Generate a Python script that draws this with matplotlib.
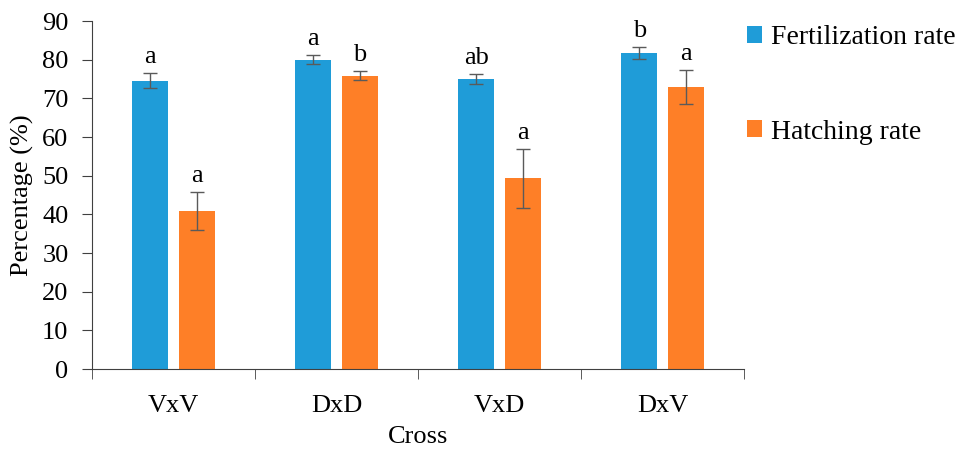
import numpy as np
import matplotlib.pyplot as plt

crosses = ["VxV", "DxD", "VxD", "DxV"]
fert = [74.6, 80.0, 75.0, 81.7]
fert_err = [1.95, 1.2, 1.3, 1.5]
hatch = [41.0, 75.9, 49.3, 72.9]
hatch_err = [4.9, 1.1, 7.7, 4.4]
fert_letters = ["a", "a", "ab", "b"]
hatch_letters = ["a", "b", "a", "a"]

plt.rcParams['font.family'] = ['Liberation Serif', 'DejaVu Serif']

blue = "#1F9CD8"
orange = "#FE7F27"
errc = "#5A5A5A"

fig = plt.figure(figsize=(9.7, 4.49), dpi=100)
ax = fig.add_axes([0.095, 0.178, 0.672, 0.775])

x = np.arange(len(crosses))
w = 0.22
off = 0.143
ekw = dict(ecolor=errc, elinewidth=1, capsize=5, capthick=1)
ax.bar(x - off, fert, w, color=blue, yerr=fert_err, error_kw=ekw, label="Fertilization rate")
ax.bar(x + off, hatch, w, color=orange, yerr=hatch_err, error_kw=ekw, label="Hatching rate")

for i in range(len(crosses)):
    ax.text(x[i] - off, fert[i] + fert_err[i] + 2.6, fert_letters[i], fontsize=19,
            ha="center", va="baseline")
    ax.text(x[i] + off, hatch[i] + hatch_err[i] + 2.6, hatch_letters[i], fontsize=19,
            ha="center", va="baseline")

ax.set_xlim(-0.5, 3.5)
ax.set_ylim(0, 90)
ax.set_yticks(range(0, 91, 10))
ax.set_xticks(x)
ax.set_xticklabels(crosses)
ax.set_xticks(np.arange(-0.5, 3.6, 1), minor=True)
ax.tick_params(axis="x", which="major", length=0, labelsize=19, pad=19)
ax.tick_params(axis="x", which="minor", length=7, direction="out", color="#404040")
ax.tick_params(axis="y", length=7, direction="out", labelsize=19, color="#404040", pad=10)

for s in ["top", "right"]:
    ax.spines[s].set_visible(False)
for s in ["left", "bottom"]:
    ax.spines[s].set_color("#404040")

ax.set_xlabel("Cross", fontsize=19, labelpad=6)
ax.set_ylabel("Percentage (%)", fontsize=19, labelpad=6)

fig.legend(loc="upper left", bbox_to_anchor=(0.756, 0.975), frameon=False, fontsize=20,
           handlelength=0.55, handleheight=0.55, handletextpad=0.3, labelspacing=2.5,
           borderpad=0)

fig.savefig("out.png", dpi=100)
